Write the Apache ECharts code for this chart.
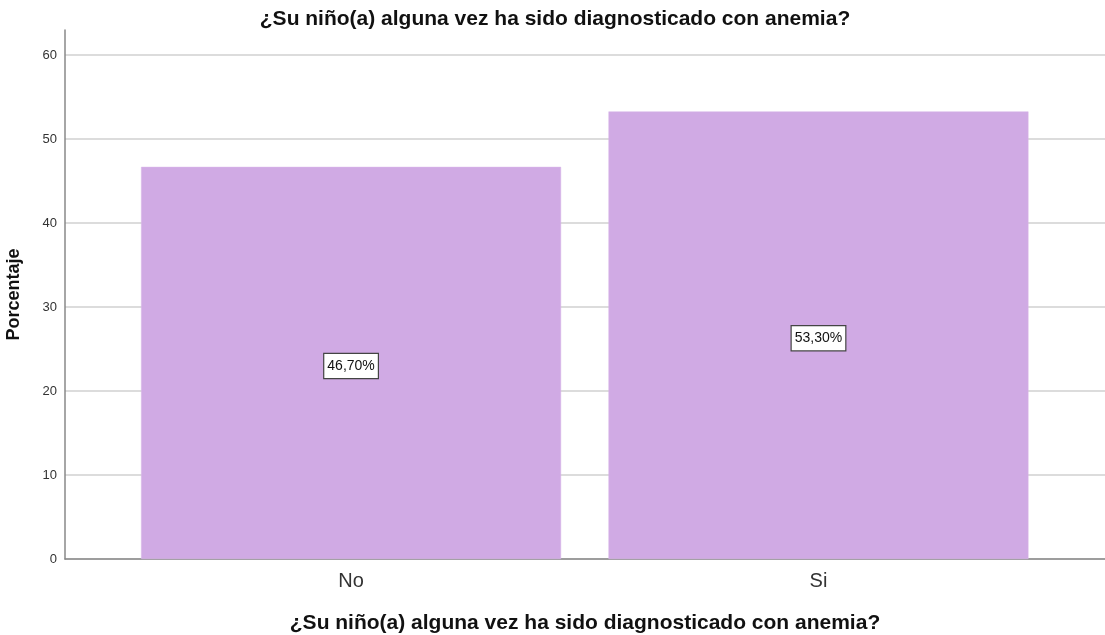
<!DOCTYPE html>
<html>
<head>
<meta charset="utf-8">
<script src="https://cdn.jsdelivr.net/npm/echarts@6/dist/echarts.min.js"></script>
<style>
html, body { margin: 0; padding: 0; background: #fff; }
#container { width: 1105px; height: 635px; }
</style>
</head>
<body>
<div id="container"></div>
<script>
var dom = document.getElementById("container");
var myChart = echarts.init(dom);

var categories = ['No', 'Si'];
var values = [46.7, 53.3];
var yTicks = [0, 10, 20, 30, 40, 50, 60];
var titleText = '¿Su niño(a) alguna vez ha sido diagnosticado con anemia?';

// barras en posiciones 0 y 1 de un eje de valores
var seriesData = values.map(function (v, i) {
    return [i, v];
});

var option = {
    animation: false,
    textStyle: { fontFamily: 'Liberation Sans, Arial, sans-serif' },
    title: {
        text: titleText,
        left: 550,
        textAlign: 'center',
        top: 4,
        textStyle: { fontSize: 21, fontWeight: 'bold', color: '#111' }
    },
    grid: { left: 65, right: 0, top: 30, bottom: 76, outerBoundsMode: 'none', containLabel: false },
    xAxis: {
        type: 'value',
        min: -0.612,
        max: 1.613,
        name: titleText,
        nameLocation: 'middle',
        nameGap: 54,
        nameTextStyle: { fontSize: 21, fontWeight: 'bold', color: '#111' },
        axisLine: { show: true, onZero: false, lineStyle: { color: '#888', width: 1.5 } },
        axisTick: { show: false },
        splitLine: { show: false },
        axisLabel: {
            customValues: [0, 1],
            margin: 12,
            fontSize: 20,
            color: '#333',
            formatter: function (v) {
                return categories[Math.round(v)];
            }
        }
    },
    yAxis: {
        type: 'value',
        min: 0,
        max: 63,
        name: 'Porcentaje',
        nameLocation: 'middle',
        nameGap: 42,
        nameTextStyle: { fontSize: 18, fontWeight: 'bold', color: '#111' },
        axisLine: { show: true, onZero: false, lineStyle: { color: '#888', width: 1.5 } },
        axisTick: { show: false },
        axisLabel: {
            customValues: yTicks,
            margin: 8,
            fontSize: 13,
            color: '#333'
        },
        splitLine: {
            show: true,
            showMaxLine: false,
            lineStyle: { color: '#d0d0d0', width: 1.5 }
        }
    },
    series: [{
        type: 'bar',
        barWidth: 420,
        data: seriesData,
        itemStyle: { color: '#d0aae4', borderColor: '#d8b8e8', borderWidth: 0.5 },
        label: {
            show: true,
            position: 'inside',
            offset: [0, 3],
            fontSize: 14,
            color: '#111',
            backgroundColor: '#fff',
            borderColor: '#444',
            borderWidth: 1.2,
            padding: [6, 3, 4, 3],
            formatter: function (p) {
                return p.value[1].toFixed(2).replace('.', ',') + '%';
            }
        }
    }]
};

if (option && typeof option === "object") {
    myChart.setOption(option, true);
}
</script>
</body>
</html>
